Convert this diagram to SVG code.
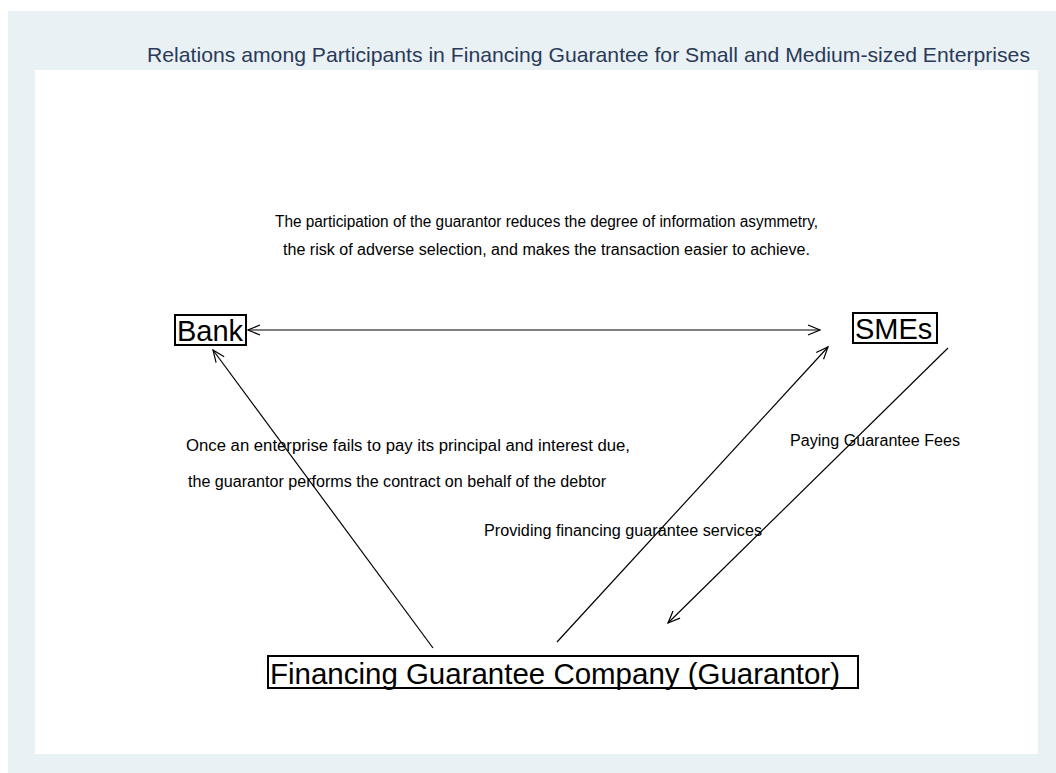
<svg xmlns="http://www.w3.org/2000/svg" width="1056" height="773" viewBox="0 0 1056 773">
<defs>
<style>
.lbl{font-family:"Liberation Sans",Arial,sans-serif;font-size:16px;fill:#000}
.node{fill:none;stroke:#000;stroke-width:2}
.ntxt{font-family:"Liberation Sans",Arial,sans-serif;fill:#000}
.edge{stroke:#000;stroke-width:1.2;fill:none}
</style>
<marker id="ah" viewBox="0 0 14 12" refX="13" refY="6" markerWidth="14" markerHeight="12" markerUnits="userSpaceOnUse" orient="auto-start-reverse">
<path d="M1,1 L13,6 L1,11" fill="none" stroke="#000" stroke-width="1.2"/>
</marker>
</defs>
<rect x="8" y="11" width="1048" height="762" fill="#e9f1f4"/>
<rect x="35" y="70" width="1003" height="684" fill="#fff"/>
<text x="147" y="62" textLength="883" lengthAdjust="spacingAndGlyphs" font-family="Liberation Sans,Arial,sans-serif" font-size="21" fill="#2a3a58">Relations among Participants in Financing Guarantee for Small and Medium-sized Enterprises</text>
<g id="connectors">
<line class="edge" x1="248" y1="330" x2="820" y2="330" marker-start="url(#ah)" marker-end="url(#ah)"/>
<line class="edge" x1="433" y1="648" x2="213" y2="350" marker-end="url(#ah)"/>
<line class="edge" x1="557" y1="642" x2="828" y2="347" marker-end="url(#ah)"/>
<line class="edge" x1="948" y1="348" x2="668" y2="623" marker-end="url(#ah)"/>
</g>
<g id="bank">
<rect class="node" x="175" y="315" width="71" height="30"/>
<text class="ntxt" x="177" y="341" font-size="29">Bank</text>
</g>
<g id="smes">
<rect class="node" x="853" y="313" width="84" height="30"/>
<text class="ntxt" x="855" y="339" font-size="29">SMEs</text>
</g>
<g id="guarantor">
<rect class="node" x="268" y="656" width="590" height="32"/>
<text class="ntxt" x="270" y="684" font-size="29.5" textLength="570" lengthAdjust="spacingAndGlyphs">Financing Guarantee Company (Guarantor)</text>
</g>
<g id="labels">
<text class="lbl" x="275" y="227" textLength="543" lengthAdjust="spacingAndGlyphs">The participation of the guarantor reduces the degree of information asymmetry,</text>
<text class="lbl" x="283" y="255" textLength="527" lengthAdjust="spacingAndGlyphs">the risk of adverse selection, and makes the transaction easier to achieve.</text>
<text class="lbl" x="186" y="451" textLength="444" lengthAdjust="spacingAndGlyphs">Once an enterprise fails to pay its principal and interest due,</text>
<text class="lbl" x="188" y="487" textLength="418" lengthAdjust="spacingAndGlyphs">the guarantor performs the contract on behalf of the debtor</text>
<text class="lbl" x="484" y="536" textLength="278" lengthAdjust="spacingAndGlyphs">Providing financing guarantee services</text>
<text class="lbl" x="790" y="446" textLength="170" lengthAdjust="spacingAndGlyphs">Paying Guarantee Fees</text>
</g>
</svg>
